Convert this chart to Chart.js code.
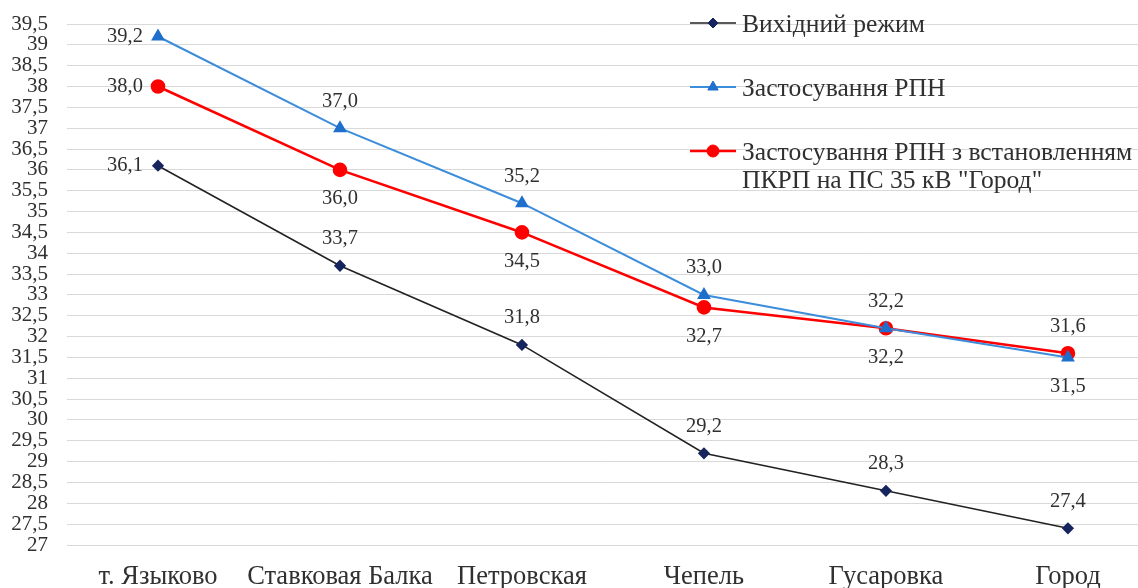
<!DOCTYPE html>
<html>
<head>
<meta charset="utf-8">
<script src="https://cdn.jsdelivr.net/npm/chart.js@4.4.1/dist/chart.umd.min.js"></script>
<style>
  html, body { margin: 0; padding: 0; background: #ffffff; }
  #wrap { width: 1138px; height: 588px; }
</style>
</head>
<body>
<div id="wrap"><canvas id="c" width="1138" height="588"></canvas></div>
<script>
// Substations along the feeder
const categories = ['т. Языково', 'Ставковая Балка', 'Петровская', 'Чепель', 'Гусаровка', 'Город'];

// Voltage levels, kV
const baseMode = [36.1, 33.7, 31.8, 29.2, 28.3, 27.4];
const withOltc = [39.2, 37.0, 35.2, 33.0, 32.2, 31.5];
const withOltcAndRegulator = [38.0, 36.0, 34.5, 32.7, 32.2, 31.6];

const seriesNames = [
  ['Вихідний режим'],
  ['Застосування РПН'],
  ['Застосування РПН з встановленням', 'ПКРП на ПС 35 кВ "Город"']
];

const yMin = 27, yMax = 39.5, yStep = 0.5;

const SERIF = '"Liberation Serif", "Times New Roman", serif';
const TEXT = '#303030';

const fmt = v => v.toFixed(1).replace('.', ',');
const fmtTick = v => String(Math.round(v * 10) / 10).replace('.', ',');
const toPoints = arr => arr.map((y, i) => ({ x: i, y }));

// Value labels next to each marker
const valueLabels = {
  id: 'valueLabels',
  afterDatasetsDraw(chart) {
    const ctx = chart.ctx;
    ctx.save();
    ctx.font = '20.5px ' + SERIF;
    ctx.fillStyle = TEXT;
    ctx.textBaseline = 'middle';
    chart.data.datasets.forEach((ds, di) => {
      const meta = chart.getDatasetMeta(di);
      meta.data.forEach((pt, i) => {
        const pos = ds.labelPos[i];
        const txt = fmt(ds.data[i].y);
        let x = pt.x, y = pt.y;
        if (pos === 'left') {
          ctx.textAlign = 'right';
          x -= 15;
        } else if (pos === 'above') {
          ctx.textAlign = 'center';
          y -= 27;
        } else {
          ctx.textAlign = 'center';
          y += 29;
        }
        ctx.fillText(txt, x, y);
      });
    });
    ctx.restore();
  }
};

// Legend placed inside the plot, top right
const insideLegend = {
  id: 'insideLegend',
  afterDraw(chart) {
    const ctx = chart.ctx;
    const rows = [23, 87, 151];
    chart.data.datasets.forEach((ds, di) => {
      const y = rows[di];
      ctx.save();
      ctx.strokeStyle = ds.borderColor;
      ctx.lineWidth = ds.borderWidth;
      ctx.beginPath();
      ctx.moveTo(690, y);
      ctx.lineTo(736, y);
      ctx.stroke();
      ctx.fillStyle = ds.pointBackgroundColor;
      ctx.strokeStyle = ds.pointBorderColor;
      ctx.lineWidth = 1;
      Chart.helpers.drawPoint(ctx, {
        pointStyle: ds.pointStyle,
        radius: ds.pointRadius,
        rotation: 0,
        borderWidth: 1
      }, 713, y);
      ctx.font = '25.6px ' + SERIF;
      ctx.textAlign = 'left';
      ctx.textBaseline = 'middle';
      ctx.fillStyle = TEXT;
      seriesNames[di].forEach((line, li) => ctx.fillText(line, 742, y + 2 + li * 28.5));
      ctx.restore();
    });
  }
};

const chart = new Chart(document.getElementById('c'), {
  type: 'line',
  data: {
    datasets: [
      {
        label: seriesNames[0].join(' '),
        data: toPoints(baseMode),
        borderColor: '#222222',
        borderWidth: 1.6,
        pointStyle: 'rectRot',
        pointRadius: 5,
        pointBackgroundColor: '#17255e',
        pointBorderColor: '#17255e',
        labelPos: ['left', 'above', 'above', 'above', 'above', 'above']
      },
      {
        label: seriesNames[1].join(' '),
        data: toPoints(withOltc),
        borderColor: '#3c8ddb',
        borderWidth: 2,
        pointStyle: 'triangle',
        pointRadius: 6,
        pointBackgroundColor: '#1f6fcc',
        pointBorderColor: '#1f6fcc',
        labelPos: ['left', 'above', 'above', 'above', 'above', 'below']
      },
      {
        label: seriesNames[2].join(' '),
        data: toPoints(withOltcAndRegulator),
        borderColor: '#ff0000',
        borderWidth: 2.6,
        pointStyle: 'circle',
        pointRadius: 6,
        pointBackgroundColor: '#ff0000',
        pointBorderColor: '#ff0000',
        labelPos: ['left', 'below', 'below', 'below', 'below', 'above']
      }
    ]
  },
  options: {
    responsive: false,
    animation: false,
    layout: { autoPadding: false, padding: { top: 24, right: 0, left: 0, bottom: 0 } },
    plugins: {
      legend: { display: false },
      tooltip: { enabled: false }
    },
    scales: {
      x: {
        type: 'linear',
        min: -0.5,
        max: 5.385,
        afterBuildTicks(scale) {
          scale.ticks = categories.map((_, i) => ({ value: i }));
        },
        afterFit(scale) {
          scale.height = 43;
          scale.paddingLeft = 0;
          scale.paddingRight = 0;
        },
        ticks: {
          autoSkip: false,
          maxRotation: 0,
          padding: 16,
          color: TEXT,
          font: { family: SERIF, size: 26.5 },
          callback: v => categories[v]
        },
        grid: { display: false, drawTicks: false },
        border: { display: false }
      },
      y: {
        min: yMin,
        max: yMax,
        afterFit(scale) {
          scale.width = 67;
          scale.paddingTop = 0;
          scale.paddingBottom = 0;
        },
        ticks: {
          stepSize: yStep,
          autoSkip: false,
          padding: 19,
          color: TEXT,
          font: { family: SERIF, size: 21 },
          callback: v => fmtTick(v)
        },
        grid: { color: '#d9d9d9', lineWidth: 1, drawTicks: false },
        border: { display: false }
      }
    }
  },
  plugins: [valueLabels, insideLegend]
});
</script>
</body>
</html>
